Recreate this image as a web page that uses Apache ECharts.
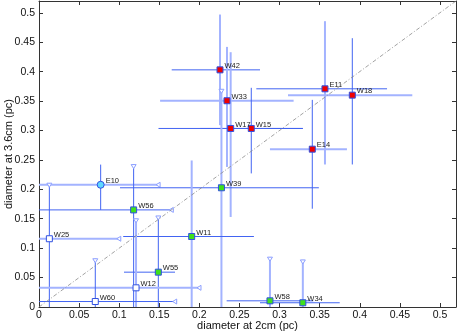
<!DOCTYPE html>
<html>
<head>
<meta charset="utf-8">
<script src="https://cdn.jsdelivr.net/npm/echarts@6/dist/echarts.min.js"></script>
<style>
  html, body { margin: 0; padding: 0; background: #fff; }
  #main { width: 457px; height: 332px; }
</style>
</head>
<body>
<div id="main"></div>
<script>
// source names and sizes (pc)
const names = ['W42', 'W33', 'W17', 'W15', 'E11', 'W18', 'E14', 'E10', 'W56', 'W39', 'W25', 'W11', 'W55', 'W12', 'W60', 'W58', 'W34'];
const d2cm = [0.2257, 0.2344, 0.239, 0.2647, 0.3566, 0.3907, 0.3408, 0.0769, 0.118, 0.2275, 0.0129, 0.1904, 0.1488, 0.121, 0.0702, 0.288, 0.329];
const d36cm = [0.403, 0.3505, 0.3034, 0.3034, 0.3708, 0.36, 0.2682, 0.2077, 0.165, 0.2026, 0.116, 0.1198, 0.0592, 0.0326, 0.0093, 0.0105, 0.0072];
// error bar ends
const xLo = [0.1655, 0.151, 0.149, 0.201, 0.271, 0.3105, 0.288, 0, 0, 0.101, 0, 0.105, 0.106, 0, 0, 0.234, 0.2756];
const xHi = [0.2756, 0.3175, 0.329, 0.329, 0.434, 0.4655, 0.384, 0.151, 0.1675, 0.349, 0.102, 0.268, 0.1696, 0.202, 0.1717, 0.342, 0.375];
const yLo = [0.309, 0.238, 0.153, 0.227, 0.2422, 0.2422, 0.167, 0.165, 0, -0.02, 0, -0.01, 0, 0, 0, 0, 0];
const yHi = [0.497, 0.442, 0.433, 0.3725, 0.4857, 0.4568, 0.352, 0.242, 0.242, 0.37, 0.2104, 0.249, 0.1547, 0.1499, 0.082, 0.0847, 0.08];
// bar look: d = thin dark, l = wide light; limits drawn with a triangle
const xBar = ['d', 'l', 'd', 'd', 'd', 'l', 'l', 'l', 'd', 'd', 'l', 'd', 'd', 'l', 'd', 'd', 'd'];
const yBar = ['l', 'l', 'l', 'd', 'l', 'd', 'd', 'd', 'd', 'l', 'd', 'l', 'd', 'l', 'd', 'l', 'l'];
const xLimit = [0, 0, 0, 0, 0, 0, 0, 1, 1, 0, 1, 0, 0, 1, 1, 0, 0];
const yLimit = [0, 0, 0, 0, 0, 0, 0, 0, 1, 1, 1, 0, 1, 1, 1, 1, 1];
const kind = ['r', 'r', 'r', 'r', 'r', 'r', 'r', 'c', 'g', 'g', 'w', 'g', 'g', 'w', 'w', 'g', 'g'];

const fills = { r: '#f00000', g: '#3fe01c', w: '#ffffff', c: '#5fd8ff' };
const barStyle = {
    d: { stroke: '#4264f2', lineWidth: 1 },
    l: { stroke: '#a3b3ff', lineWidth: 2 }
};
const triStyle = { fill: '#fff', stroke: '#8c9fff', lineWidth: 1 };
const font = 'Liberation Sans, Arial, Helvetica, sans-serif';

const myChart = echarts.init(document.getElementById('main'));

function renderBars(params, api) {
    const i = params.dataIndex;
    const l = api.coord([xLo[i], d36cm[i]]);
    const r = api.coord([xHi[i], d36cm[i]]);
    const b = api.coord([d2cm[i], yLo[i]]);
    const t = api.coord([d2cm[i], yHi[i]]);
    const kids = [
        { type: 'line', shape: { x1: l[0], y1: l[1], x2: r[0], y2: r[1] }, style: barStyle[xBar[i]] },
        { type: 'line', shape: { x1: b[0], y1: b[1], x2: t[0], y2: t[1] }, style: barStyle[yBar[i]] }
    ];
    if (xLimit[i]) {
        kids.push({
            type: 'polygon',
            shape: { points: [[r[0], r[1] - 2.5], [r[0], r[1] + 2.5], [r[0] - 4, r[1]]] },
            style: triStyle
        });
    }
    if (yLimit[i]) {
        kids.push({
            type: 'polygon',
            shape: { points: [[t[0] - 2.5, t[1]], [t[0] + 2.5, t[1]], [t[0], t[1] + 4]] },
            style: triStyle
        });
    }
    return { type: 'group', children: kids };
}

const axisCommon = {
    type: 'value',
    min: 0,
    max: 0.52,
    interval: 0.05,
    axisLine: { show: true, onZero: false, lineStyle: { color: '#333', width: 1 } },
    axisTick: { show: true, inside: true, length: 4, lineStyle: { color: '#333' } },
    splitLine: { show: false }
};

const option = {
    animation: false,
    grid: { left: 39, right: 1, top: 1, bottom: 25, containLabel: false, outerBoundsMode: 'none' },
    xAxis: [
        Object.assign({}, axisCommon, {
            position: 'bottom',
            name: 'diameter at 2cm (pc)',
            nameLocation: 'middle',
            nameGap: 13,
            nameMoveOverlap: false,
            nameTextStyle: { fontFamily: font, fontSize: 11, color: '#111' },
            axisLabel: { showMaxLabel: false, margin: 3, fontFamily: font, fontSize: 10.5, color: '#111' }
        }),
        Object.assign({}, axisCommon, { position: 'top', axisLabel: { show: false } })
    ],
    yAxis: [
        Object.assign({}, axisCommon, {
            position: 'left',
            name: 'diameter at 3.6cm (pc)',
            nameLocation: 'middle',
            nameGap: 25,
            nameMoveOverlap: false,
            nameTextStyle: { fontFamily: font, fontSize: 11, color: '#111' },
            axisLabel: { showMaxLabel: false, margin: 4, fontFamily: font, fontSize: 10.5, color: '#111' }
        }),
        Object.assign({}, axisCommon, { position: 'right', axisLabel: { show: false } })
    ],
    series: [
        {
            // one-to-one line
            type: 'line',
            data: [[0, 0], [0.52, 0.52]],
            symbol: 'none',
            silent: true,
            lineStyle: { color: '#8a8a8a', width: 0.8, type: [4, 2, 1, 2] }
        },
        {
            type: 'custom',
            clip: true,
            silent: true,
            renderItem: renderBars,
            data: names.map((n, i) => [d2cm[i], d36cm[i]])
        },
        {
            type: 'scatter',
            silent: true,
            data: names.map((n, i) => ({
                name: n,
                value: [d2cm[i], d36cm[i]],
                symbol: kind[i] === 'c' ? 'circle' : 'rect',
                symbolSize: kind[i] === 'c' ? 7 : 6,
                itemStyle: { color: fills[kind[i]], borderColor: '#3050e0', borderWidth: 1, opacity: 1 }
            })),
            label: {
                show: true,
                position: 'right',
                distance: 1,
                offset: [0, -4],
                formatter: '{b}',
                fontFamily: font,
                fontSize: 7.5,
                color: '#222'
            }
        }
    ]
};

myChart.setOption(option);
</script>
</body>
</html>
